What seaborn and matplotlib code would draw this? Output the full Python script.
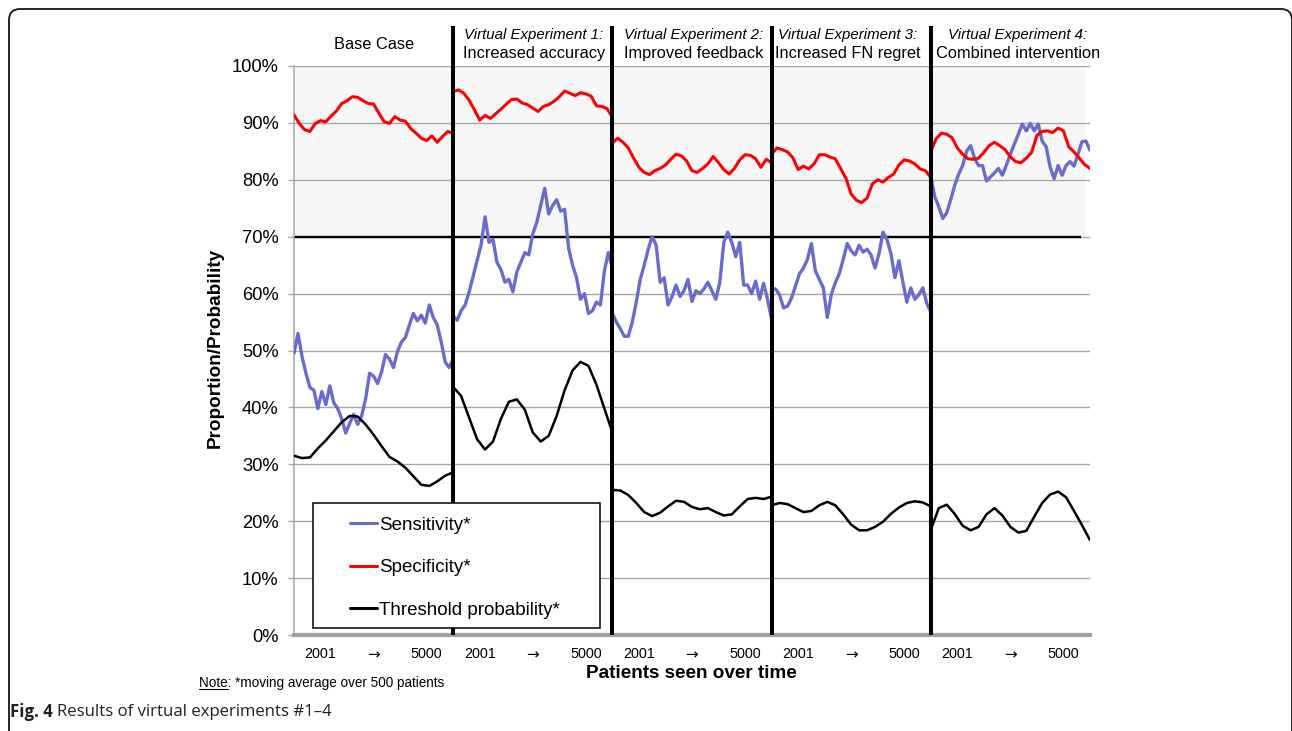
import numpy as np
import pandas as pd
import seaborn as sns
import matplotlib.pyplot as plt
from matplotlib.lines import Line2D
from matplotlib.patches import Rectangle, PathPatch
from matplotlib.path import Path

# panel headers
titles = ['Base Case', 'Increased accuracy', 'Improved feedback', 'Increased FN regret', 'Combined intervention']
experiments = ['', 'Virtual Experiment 1:', 'Virtual Experiment 2:', 'Virtual Experiment 3:', 'Virtual Experiment 4:']
tick_labels = ['2001', '\u2192', '5000']
first_patient = 2001
last_patient = 5000

# moving averages (%) read across each block of patients 2001..5000
sens_base = [49.5, 53.0, 49.0, 46.0, 43.5, 43.0, 39.8, 42.8, 40.5, 43.8, 40.8, 39.8, 38.0, 35.5, 37.2, 38.8, 37.0, 38.5, 41.5, 46.0, 45.5,
             44.2, 46.2, 49.3, 48.5, 47.0, 49.8, 51.5, 52.3, 54.5, 56.5, 55.2, 56.2, 54.8, 58.0, 55.8, 54.5, 51.5, 48.0, 47.0, 48.5]
sens_exp1 = [56.0, 55.3, 57.0, 58.0, 60.3, 63.0, 65.8, 68.5, 73.5, 69.0, 69.5, 65.5, 64.2, 62.0, 62.5, 60.3, 63.8, 65.5, 67.2, 66.8, 70.5,
             72.5, 75.5, 78.5, 74.0, 75.5, 76.5, 74.5, 74.8, 68.0, 65.0, 62.8, 59.0, 60.0, 56.5, 57.0, 58.5, 58.0, 64.0, 67.2, 64.5]
sens_exp2 = [56.5, 55.0, 53.8, 52.5, 52.5, 55.0, 58.5, 62.5, 65.0, 67.8, 70.0, 68.5, 62.0, 62.8, 58.0, 59.5, 61.5, 59.5, 60.5, 62.5, 58.6,
             60.5, 60.0, 60.8, 62.0, 60.5, 59.0, 62.0, 69.0, 70.8, 69.0, 66.5, 69.0, 61.5, 61.5, 60.0, 62.2, 59.0, 61.8, 59.0, 55.5]
sens_exp3 = [61.0, 60.8, 59.8, 57.5, 57.8, 59.2, 61.3, 63.5, 64.5, 66.0, 68.8, 64.0, 62.5, 61.0, 55.8, 59.8, 61.9, 63.5, 66.0, 68.8, 67.5,
             66.8, 68.5, 67.3, 67.8, 66.8, 64.5, 67.0, 70.8, 69.5, 67.0, 62.8, 65.8, 62.0, 58.5, 61.0, 59.0, 59.8, 61.0, 58.3, 56.8]
sens_exp4 = [80.5, 77.0, 75.3, 73.2, 74.2, 76.5, 79.0, 81.0, 82.5, 85.0, 86.0, 83.8, 82.5, 82.5, 79.8, 80.5, 81.2, 82.0, 80.8, 82.6, 84.5,
             86.3, 88.0, 89.8, 88.6, 89.9, 88.6, 89.8, 86.8, 85.8, 82.2, 80.2, 82.5, 80.8, 82.5, 83.2, 82.4, 84.5, 86.7, 86.8, 85.2]

spec_base = [91.4, 89.9, 88.8, 88.5, 89.9, 90.4, 90.2, 91.2, 92.1, 93.4, 93.9, 94.6, 94.5, 93.9, 93.4, 93.3,
             91.7, 90.2, 89.9, 91.1, 90.5, 90.3, 89.0, 88.2, 87.3, 86.9, 87.7, 86.6, 87.6, 88.5, 88.1]
spec_exp1 = [95.5, 95.8, 95.2, 94.0, 92.3, 90.5, 91.3, 90.8, 91.6, 92.4, 93.3, 94.1, 94.2, 93.5, 93.2, 92.6,
             92.0, 92.9, 93.2, 93.8, 94.6, 95.6, 95.2, 94.8, 95.3, 95.1, 94.7, 93.0, 92.9, 92.5, 91.0]
spec_exp2 = [86.5, 87.3, 86.6, 85.6, 83.8, 82.2, 81.3, 80.9, 81.6, 82.0, 82.6, 83.6, 84.5, 84.2, 83.3, 81.6,
             81.3, 82.0, 82.8, 84.1, 83.0, 81.8, 81.0, 82.0, 83.5, 84.4, 84.3, 83.7, 82.2, 83.6, 83.0]
spec_exp3 = [84.5, 85.6, 85.3, 84.9, 83.9, 81.8, 82.4, 81.9, 82.8, 84.4, 84.4, 84.0, 83.7, 82.0, 80.3, 77.5,
             76.4, 76.0, 76.8, 79.3, 80.0, 79.6, 80.4, 81.0, 82.6, 83.5, 83.3, 82.8, 81.9, 81.6, 80.4]
spec_exp4 = [85.0, 87.2, 88.2, 88.0, 87.4, 85.6, 84.5, 83.7, 83.6, 83.8, 84.8, 86.0, 86.6, 86.0, 85.3, 84.0,
             83.2, 83.0, 83.8, 84.8, 87.8, 88.5, 88.6, 88.3, 89.1, 88.6, 85.8, 84.9, 83.8, 82.7, 82.0]

thr_base = [31.5, 31.1, 31.2, 32.8, 34.2, 35.8, 37.4, 38.5, 38.4, 37.0, 35.2, 33.2, 31.3, 30.5, 29.4, 27.9, 26.4, 26.2, 27.0, 28.0, 28.6]
thr_exp1 = [43.6, 42.0, 38.2, 34.4, 32.6, 34.0, 38.0, 41.0, 41.4, 39.6, 35.6, 34.0, 35.0, 38.5, 43.0, 46.5, 48.0, 47.3, 44.0, 39.8, 35.6]
thr_exp2 = [25.5, 25.4, 24.6, 23.2, 21.6, 20.9, 21.5, 22.6, 23.6, 23.4, 22.5, 22.1, 22.3, 21.6, 21.0, 21.2, 22.6, 23.9, 24.1, 23.9, 24.3]
thr_exp3 = [22.8, 23.2, 23.0, 22.3, 21.6, 21.8, 22.8, 23.4, 22.8, 21.2, 19.4, 18.4, 18.4, 19.0, 19.9, 21.3, 22.4, 23.2, 23.5, 23.3, 22.6]
thr_exp4 = [18.5, 22.3, 22.9, 21.3, 19.2, 18.4, 19.0, 21.2, 22.3, 21.0, 19.0, 18.0, 18.3, 20.8, 23.2, 24.7, 25.2, 24.2, 21.8, 19.3, 16.7]

series = {
    'Sensitivity*': [sens_base, sens_exp1, sens_exp2, sens_exp3, sens_exp4],
    'Specificity*': [spec_base, spec_exp1, spec_exp2, spec_exp3, spec_exp4],
    'Threshold probability*': [thr_base, thr_exp1, thr_exp2, thr_exp3, thr_exp4],
}
colors = {'Sensitivity*': '#6b6bcf', 'Specificity*': '#ff0000', 'Threshold probability*': '#000000'}
widths = {'Sensitivity*': 2.4, 'Specificity*': 2.2, 'Threshold probability*': 1.8}

# long dataframe, each panel is its own block of 3000 patients on the x axis
block = last_patient - first_patient + 1
rows = []
for name, panels in series.items():
    for p, vals in enumerate(panels):
        patients = np.linspace(first_patient, last_patient, len(vals))
        for pt, v in zip(patients, vals):
            rows.append({'series': name, 'panel': p, 'patient': pt,
                         'x': p * block + (pt - first_patient), 'value': v})
df = pd.DataFrame(rows)

sns.set_theme(style='white')
plt.rcParams['font.family'] = ['Liberation Sans', 'DejaVu Sans']

W, H = 1292, 731
fig = plt.figure(figsize=(W / 100, H / 100), dpi=100)
ax = fig.add_axes([294 / W, 1 - 635 / H, 796 / W, 569 / H])

def px(x, y):
    return x / W, 1 - y / H

for name in series:
    sns.lineplot(data=df[df.series == name], x='x', y='value', units='panel', estimator=None,
                 sort=False, color=colors[name], linewidth=widths[name], ax=ax, legend=False, zorder=3)

n_panels = len(titles)
ax.set_xlim(0, n_panels * block)
ax.set_ylim(0, 100)

# shaded zone above 70%
ax.axhspan(70, 100, xmin=0, xmax=0.9937, facecolor='#f7f7f7', edgecolor='none', zorder=0.2)
ax.set_axisbelow(True)
ax.yaxis.grid(True, color='#a6a6a6', linewidth=1.0)
ax.xaxis.grid(False)
ax.hlines(70, 0, 0.9890 * n_panels * block, color='black', linewidth=1.7, zorder=1.5)

# panel separators
ax.vlines([p * block for p in range(1, n_panels)], 0, 107, color='black', linewidth=2.9,
          clip_on=False, zorder=4)

for s in ['top', 'right']:
    ax.spines[s].set_visible(False)
ax.spines['left'].set_color('#a6a6a6')
ax.spines['left'].set_linewidth(1.1)
ax.spines['bottom'].set_color('#a0a0a0')
ax.spines['bottom'].set_linewidth(3.0)

yt = list(range(0, 101, 10))
ax.set_yticks(yt)
ax.set_yticklabels([f'{v}%' for v in yt])
ax.tick_params(axis='y', left=True, length=4, width=1, color='#a6a6a6', pad=7,
               labelsize=13.2, labelcolor='black')

xt, xl = [], []
for p in range(n_panels):
    for frac, lab in zip([1 / 6, 1 / 2, 5 / 6], tick_labels):
        xt.append(p * block + frac * block)
        xl.append(lab)
ax.set_xticks(xt)
ax.set_xticklabels(xl)
ax.tick_params(axis='x', bottom=False, length=0, pad=9, labelsize=10.4, labelcolor='black')
for t in ax.get_xticklabels():
    if t.get_text() == '\u2192':
        t.set_family('DejaVu Sans')
        t.set_fontsize(11)

ax.set_xlabel('Patients seen over time', fontsize=13.6, fontweight='bold', color='black')
ax.xaxis.set_label_coords((691 - 294) / 796, (635 - 673) / 569)
ax.xaxis.label.set_verticalalignment('center')
ax.set_ylabel('Proportion/Probability', fontsize=13.6, fontweight='bold', color='black')
ax.yaxis.set_label_coords((215 - 294) / 796, (635 - 348) / 569)
ax.yaxis.label.set_verticalalignment('center')

# panel headers
title_x = [373.7, 534, 694, 848, 1018]
for cx, exp, ttl in zip(title_x, experiments, titles):
    if exp:
        fig.text(*px(cx, 39.3), exp, ha='center', va='baseline', fontsize=10.8, style='italic', color='black')
        fig.text(*px(cx, 58.3), ttl, ha='center', va='baseline', fontsize=11.8, color='black')
    else:
        fig.text(*px(cx, 49.3), ttl, ha='center', va='baseline', fontsize=11.8, color='black')

# legend with its own frame
frame = Rectangle(((313 - 294) / 796, (635 - 628) / 569), (600 - 313) / 796, (628 - 503) / 569,
                  transform=ax.transAxes, facecolor='white', edgecolor='black', linewidth=1.1,
                  clip_on=False, zorder=4.5)
ax.add_patch(frame)
handles = [Line2D([], [], color=colors[n], linewidth=2.2) for n in series]
leg = ax.legend(handles, list(series), loc='upper left',
                bbox_to_anchor=((350 - 294) / 796, (635 - 516.5) / 569),
                frameon=False, fontsize=13.5, handlelength=1.45, handletextpad=0.12,
                labelspacing=1.36, borderpad=0, borderaxespad=0)
leg.set_zorder(5)
for t in leg.get_texts():
    t.set_color('black')

# note and caption
renderer = fig.canvas.get_renderer()
fig.text(*px(199, 683), 'Note: *moving average over 500 patients', ha='left', va='center',
         fontsize=9.75, color='black')
tn = fig.text(*px(199, 683), 'Note', ha='left', va='center', fontsize=9.75, alpha=0)
bb = tn.get_window_extent(renderer)
fig.add_artist(Line2D([bb.x0 / W, bb.x1 / W], [(bb.y0 + 1.5) / H] * 2, color='black', linewidth=0.8))

cap = fig.text(*px(10, 712), 'Fig. 4', ha='left', va='center', fontsize=12.1, fontweight='bold',
               family='Open Sans', color='#231f20')
cb = cap.get_window_extent(renderer)
fig.text((cb.x1 + 4) / W, 1 - 712 / H, 'Results of virtual experiments #1\u20134', ha='left', va='center',
         fontsize=12.1, family='Open Sans', color='#231f20')

# outer frame: left and top edges with rounded corners, right edge at the image border
def inch(x, y):
    return x / 100, (H - y) / 100

verts = [inch(9, 740), inch(9, 20), inch(9, 9), inch(20, 9), inch(1281, 9), inch(1292, 9), inch(1292, 20),
         inch(1292, 740)]
codes = [Path.MOVETO, Path.LINETO, Path.CURVE3, Path.CURVE3, Path.LINETO, Path.CURVE3, Path.CURVE3, Path.LINETO]
fig.add_artist(PathPatch(Path(verts, codes), transform=fig.dpi_scale_trans, facecolor='none',
                         edgecolor='#222222', linewidth=1.4))

fig.savefig('out.png', dpi=100)
plt.close()
